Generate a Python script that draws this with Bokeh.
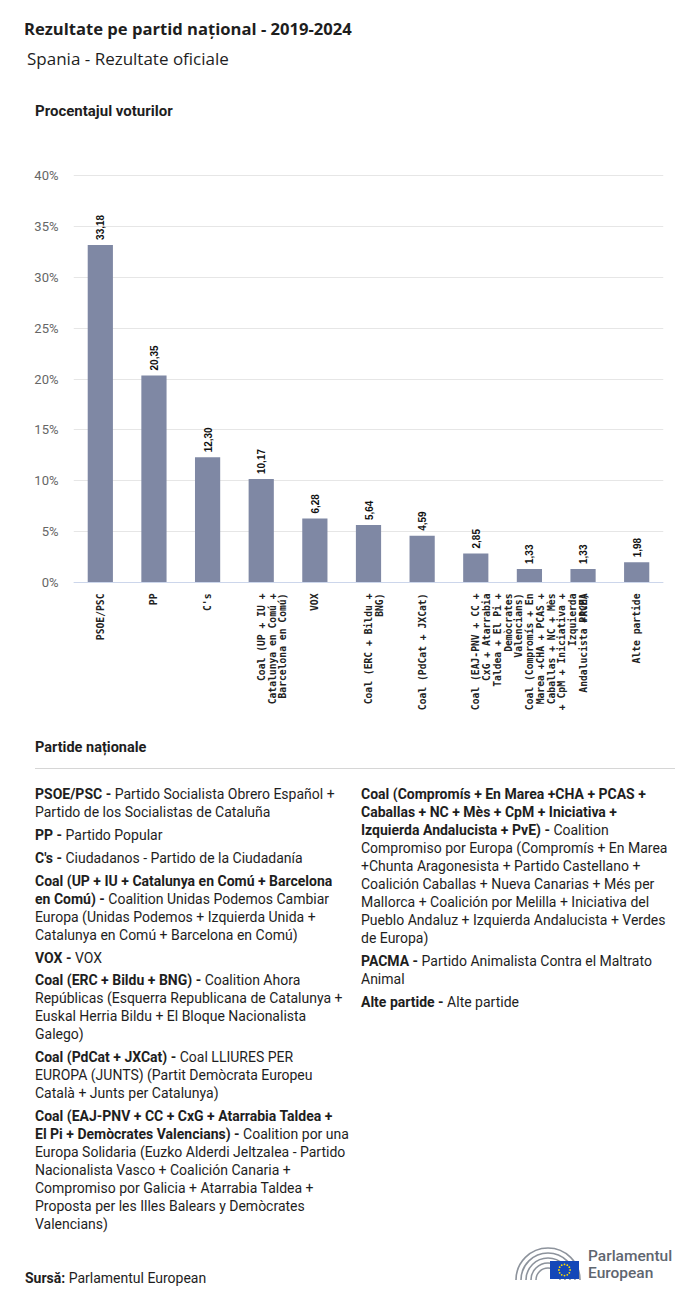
import math
import html
from bokeh.plotting import figure
from bokeh.models import (FactorRange, Range1d, FixedTicker, PrintfTickFormatter,
                          Span, Div, ColumnDataSource)
from bokeh.layouts import column
from bokeh.core.properties import value
from bokeh.embed import file_html
from bokeh.resources import INLINE

# ---------------- data ----------------
parties = [
    "PSOE/PSC",
    "PP",
    "C's",
    "Coal (UP + IU + Catalunya en Comú + Barcelona en Comú)",
    "VOX",
    "Coal (ERC + Bildu + BNG)",
    "Coal (PdCat + JXCat)",
    "Coal (EAJ-PNV + CC + CxG + Atarrabia Taldea + El Pi + Demòcrates Valencians)",
    "Coal (Compromís + En Marea +CHA + PCAS + Caballas + NC + Mès + CpM + Iniciativa + Izquierda Andalucista +PvE)",
    "PACMA",
    "Alte partide",
]
tick_lines = [
    ["PSOE/PSC"],
    ["PP"],
    ["C's"],
    ["Coal (UP + IU +", "Catalunya en Comú +", "Barcelona en Comú)"],
    ["VOX"],
    ["Coal (ERC + Bildu +", "BNG)"],
    ["Coal (PdCat + JXCat)"],
    ["Coal (EAJ-PNV + CC +", "CxG + Atarrabia", "Taldea + El Pi +", "Demòcrates", "Valencians)"],
    ["Coal (Compromís + En", "Marea +CHA + PCAS +", "Caballas + NC + Mès", "+ CpM + Iniciativa +",
     "Izquierda", "Andalucista +PvE)"],
    ["PACMA"],
    ["Alte partide"],
]
vote_share = [33.18, 20.35, 12.30, 10.17, 6.28, 5.64, 4.59, 2.85, 1.33, 1.33, 1.98]
y_ticks = [0, 5, 10, 15, 20, 25, 30, 35, 40]

title_text = "Rezultate pe partid național - 2019-2024"
subtitle_text = "Spania - Rezultate oficiale"
axis_title_text = "Procentajul voturilor"
legend_title_text = "Partide naționale"
source_label = "Sursă:"
source_text = "Parlamentul European"
logo_lines = ["Parlamentul", "European"]

legend_left = [
    [("PSOE/PSC - ", "Partido Socialista Obrero Español +"), ("", "Partido de los Socialistas de Cataluña")],
    [("PP - ", "Partido Popular")],
    [("C's - ", "Ciudadanos - Partido de la Ciudadanía")],
    [("Coal (UP + IU + Catalunya en Comú + Barcelona", ""),
     ("en Comú) - ", "Coalition Unidas Podemos Cambiar"),
     ("", "Europa (Unidas Podemos + Izquierda Unida +"),
     ("", "Catalunya en Comú + Barcelona en Comú)")],
    [("VOX - ", "VOX")],
    [("Coal (ERC + Bildu + BNG) - ", "Coalition Ahora"),
     ("", "Repúblicas (Esquerra Republicana de Catalunya +"),
     ("", "Euskal Herria Bildu + El Bloque Nacionalista"),
     ("", "Galego)")],
    [("Coal (PdCat + JXCat) - ", "Coal LLIURES PER"),
     ("", "EUROPA (JUNTS) (Partit Demòcrata Europeu"),
     ("", "Català + Junts per Catalunya)")],
    [("Coal (EAJ-PNV + CC + CxG + Atarrabia Taldea +", ""),
     ("El Pi + Demòcrates Valencians) - ", "Coalition por una"),
     ("", "Europa Solidaria (Euzko Alderdi Jeltzalea - Partido"),
     ("", "Nacionalista Vasco + Coalición Canaria +"),
     ("", "Compromiso por Galicia + Atarrabia Taldea +"),
     ("", "Proposta per les Illes Balears y Demòcrates"),
     ("", "Valencians)")],
]
legend_right = [
    [("Coal (Compromís + En Marea +CHA + PCAS +", ""),
     ("Caballas + NC + Mès + CpM + Iniciativa +", ""),
     ("Izquierda Andalucista + PvE) - ", "Coalition"),
     ("", "Compromiso por Europa (Compromís + En Marea"),
     ("", "+Chunta Aragonesista + Partido Castellano +"),
     ("", "Coalición Caballas + Nueva Canarias + Més per"),
     ("", "Mallorca + Coalición por Melilla + Iniciativa del"),
     ("", "Pueblo Andaluz + Izquierda Andalucista + Verdes"),
     ("", "de Europa)")],
    [("PACMA - ", "Partido Animalista Contra el Maltrato"), ("", "Animal")],
    [("Alte partide - ", "Alte partide")],
]

# ---------------- layout constants ----------------
W = 684
HEADER_H = 132
CHART_H = 595
LEGEND_H = 560
PX_PER_UNIT = 407.0 / 40.0          # vertical pixels per percentage point
FRAME_TOP_PAD = 10.0                # px above the 40% line
FRAME_BOTTOM_PAD = 148.0            # px below the 0% line
LABEL_TOP_GAP = 11.0                # px between axis and category labels
VALUE_GAP = 5.0                     # px between bar top and value label
LINE_STEP = 10.8                    # px between wrapped category label lines

BAR_COLOR = "#7f88a4"
TEXT_COLOR = "#1e1e1e"

# ---------------- header ----------------
header_html = f"""
<div style="position:relative;width:{W}px;height:{HEADER_H}px;color:{TEXT_COLOR};">
  <div style="position:absolute;left:16px;top:12px;font-family:'Open Sans';font-size:16.6px;line-height:17px;font-weight:700;white-space:nowrap;">{html.escape(title_text)}</div>
  <div style="position:absolute;left:19px;top:42px;font-family:'Open Sans';font-size:17px;line-height:17px;font-weight:400;white-space:nowrap;">{html.escape(subtitle_text)}</div>
  <div style="position:absolute;left:27px;top:96px;font-family:Roboto;font-size:15px;line-height:15px;font-weight:700;white-space:nowrap;">{html.escape(axis_title_text)}</div>
</div>
"""
header = Div(text=header_html, width=W, height=HEADER_H, margin=0)

# ---------------- chart ----------------
y_start = -FRAME_BOTTOM_PAD / PX_PER_UNIT
y_end = 40 + FRAME_TOP_PAD / PX_PER_UNIT

p = figure(width=W, height=CHART_H, x_range=FactorRange(factors=parties),
           y_range=Range1d(y_start, y_end), x_axis_location=None,
           toolbar_location=None, output_backend="svg",
           min_border_left=65, min_border_right=29, min_border_top=25, min_border_bottom=5)
p.outline_line_color = None
p.background_fill_color = "white"
p.border_fill_color = "white"

p.vbar(x=parties, top=vote_share, bottom=0, width=0.47, color=BAR_COLOR, line_color=None)

p.xgrid.visible = False
p.ygrid.ticker = FixedTicker(ticks=y_ticks)
p.ygrid.grid_line_color = "#e6e6e6"
p.ygrid.grid_line_width = 1

p.yaxis.ticker = FixedTicker(ticks=y_ticks)
p.yaxis.formatter = PrintfTickFormatter(format="%d%%")
p.yaxis.axis_line_color = None
p.yaxis.major_tick_line_color = None
p.yaxis.minor_tick_line_color = None
p.yaxis.major_tick_out = 0
p.yaxis.major_tick_in = 0
p.yaxis.major_label_standoff = 15
p.yaxis.major_label_text_font = "Roboto"
p.yaxis.major_label_text_font_size = "13px"
p.yaxis.major_label_text_color = "#666666"

p.add_layout(Span(location=0, dimension="width", line_color="#ccd6eb", line_width=1))

# value labels
val_src = ColumnDataSource(dict(
    x=parties,
    y=[v + VALUE_GAP / PX_PER_UNIT for v in vote_share],
    t=[f"{v:.2f}".replace(".", ",") for v in vote_share],
))
p.text(x="x", y="y", text="t", source=val_src, angle=math.pi / 2,
       text_align="left", text_baseline="middle",
       text_font=value("Liberation Sans"), text_font_style="bold",
       text_font_size="10px", text_color="#111111")

# category labels (wrapped, rotated)
lx, lt, lo = [], [], []
for party, lines in zip(parties, tick_lines):
    for i, line in enumerate(lines):
        lx.append(party)
        lt.append(line)
        lo.append(i * LINE_STEP)
lab_src = ColumnDataSource(dict(x=lx, t=lt, xo=lo))
p.text(x="x", y=-LABEL_TOP_GAP / PX_PER_UNIT, text="t", x_offset="xo", source=lab_src,
       angle=math.pi / 2, text_align="right", text_baseline="middle",
       text_font=value("DejaVu Sans Mono"), text_font_style="bold",
       text_font_size="9.7px", text_color="#222222")

# ---------------- legend + footer ----------------
def render_entries(entries):
    out = []
    for entry in entries:
        rows = []
        for bold, normal in entry:
            b = f"<b>{html.escape(bold)}</b>" if bold else ""
            rows.append(f'<div style="height:18px;line-height:18px;white-space:nowrap;">{b}{html.escape(normal)}</div>')
        out.append(f'<div style="margin-bottom:4.9px;">{"".join(rows)}</div>')
    return "".join(out)

OX, OY = 8, 735  # page origin of this block in reference pixels
stars = []
for k in range(12):
    a = 2 * math.pi * k / 12
    stars.append(f'<circle cx="{564.5 - OX + 5.6 * math.cos(a):.2f}" cy="{1270 - OY + 5.6 * math.sin(a):.2f}" r="0.9" fill="#ffdd00"/>')
arcs = []
cx, cy = 548 - OX, 1280 - OY
for r in [32, 27, 22, 17, 12]:
    arcs.append(f'<path d="M {cx - r} {cy} A {r} {r} 0 0 1 {cx + r} {cy}" fill="none" stroke="#8d939c" stroke-width="1.6"/>')

logo_divs = "".join(
    f'<div style="height:17px;line-height:17px;white-space:nowrap;">{html.escape(s)}</div>'
    for s in logo_lines)

legend_html = f"""
<div style="position:relative;width:{W}px;height:{LEGEND_H}px;color:{TEXT_COLOR};font-family:Roboto;">
  <div style="position:absolute;left:27px;top:6px;font-size:14.5px;line-height:14.5px;font-weight:700;white-space:nowrap;">{html.escape(legend_title_text)}</div>
  <div style="position:absolute;left:27px;top:33px;width:640px;height:0;border-top:1px solid #d6d6d6;"></div>
  <div style="position:absolute;left:27px;top:50px;font-size:14px;">{render_entries(legend_left)}</div>
  <div style="position:absolute;left:353px;top:50px;font-size:14px;">{render_entries(legend_right)}</div>
  <div style="position:absolute;left:17px;top:534px;font-size:14px;line-height:18px;white-space:nowrap;"><b>{html.escape(source_label)}</b> {html.escape(source_text)}</div>
  <svg style="position:absolute;left:0;top:0;" width="{W}" height="{LEGEND_H}">
    {''.join(arcs)}
    <rect x="{550 - OX}" y="{1261 - OY}" width="29" height="18" fill="#1448b8"/>
    {''.join(stars)}
  </svg>
  <div style="position:absolute;left:{588 - OX}px;top:{1248 - OY}px;font-size:15.5px;font-weight:500;color:#5f6670;">{logo_divs}</div>
</div>
"""
legend = Div(text=legend_html, width=W, height=LEGEND_H, margin=0)

layout = column(header, p, legend, spacing=0, margin=(8, 8, 0, 8))
open("out.html", "w").write(file_html(layout, INLINE))
